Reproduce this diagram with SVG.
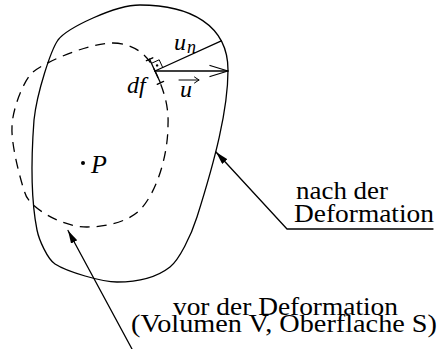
<svg xmlns="http://www.w3.org/2000/svg" width="438" height="349" viewBox="0 0 438 349">
<style>
.ln{fill:none;stroke:#000;stroke-width:1.3;stroke-linecap:round;stroke-linejoin:round}
.dash{fill:none;stroke:#000;stroke-width:1.3;stroke-dasharray:10 7}
text{font-family:'Liberation Serif','Times New Roman',serif;fill:#000}
.rm{font-size:25px}
.it{font-style:italic}
</style>
<defs>
<marker id="ah" markerUnits="userSpaceOnUse" markerWidth="14" markerHeight="8" refX="13" refY="3.5" orient="auto-start-reverse">
<path d="M0,0 L13,3.5 L0,7 Z" fill="#000"/>
</marker>
</defs>
<g id="after">
<path class="ln" d="M140,5 C190,5 228,25 228,70 C228,110 215,160 197,217 C191,236 179,260 170,267 C156,278 135,282 117,282 C102,282 67.5,272 55,264 C47.5,259 39,240 37,230 C31,200 31,160 34,120 C37,92 51,50 58,40 C67,28 115,5 140,5 Z"/>
</g>
<g id="before">
<path class="dash" d="M113,43 C130,43 147,52 155,71 C163,88 169,105 168,125 C168,155 157,192 140,210 C128,222 105,227 87,227 C60,227 28,206 25,193 C21,182 11,145 12,127 C12,110 23.8,79.6 33,72 C47,60.7 90,43 113,43 Z"/>
</g>
<g id="element">
<line class="ln" x1="149.6" y1="59.2" x2="160.4" y2="82.8"/>
<line class="ln" x1="146.4" y1="60.7" x2="152.8" y2="57.8"/>
<line class="ln" x1="157.2" y1="84.3" x2="163.6" y2="81.4"/>
<path class="ln" d="M162.7,67.5 L159.2,59.8 L151.5,63.3" style="stroke-width:1"/>
<circle cx="157.1" cy="65.4" r="1.2" fill="#000"/>
</g>
<g id="point">
<circle cx="83" cy="163" r="2" fill="#000"/>
<text class="it" x="91" y="173" font-size="26">P</text>
</g>
<g id="vectors">
<line class="ln" x1="155" y1="71" x2="221.3" y2="40.8"/>
<line class="ln" x1="155" y1="71" x2="228" y2="71"/>
<path class="ln" d="M210,65.5 L228,71 L210,76.5"/>
<text class="it" x="174" y="50" font-size="24">u</text>
<text class="it" x="187" y="53" font-size="18">n</text>
<text class="it" x="180" y="97" font-size="24">u</text>
<line class="ln" x1="179" y1="80" x2="199" y2="80" style="stroke-width:1"/>
<path class="ln" d="M194.5,77 L199,80 L194.5,83" style="stroke-width:1"/>
<text class="it" x="127" y="93" font-size="24">df</text>
</g>
<g id="connectors">
<polyline class="ln" points="216,152 287,229 433,229" marker-start="url(#ah)"/>
<line class="ln" x1="68" y1="230.5" x2="132" y2="349" marker-start="url(#ah)"/>
</g>
<g id="labels">
<text class="rm" x="296" y="198.5" textLength="92" lengthAdjust="spacingAndGlyphs">nach der</text>
<text class="rm" x="294" y="221.7" textLength="140" lengthAdjust="spacingAndGlyphs">Deformation</text>
<text class="rm" x="173" y="315" textLength="225" lengthAdjust="spacingAndGlyphs">vor der Deformation</text>
<text class="rm" x="131" y="331.7" textLength="306" lengthAdjust="spacingAndGlyphs">(Volumen V, Oberflache S)</text>
</g>
</svg>
